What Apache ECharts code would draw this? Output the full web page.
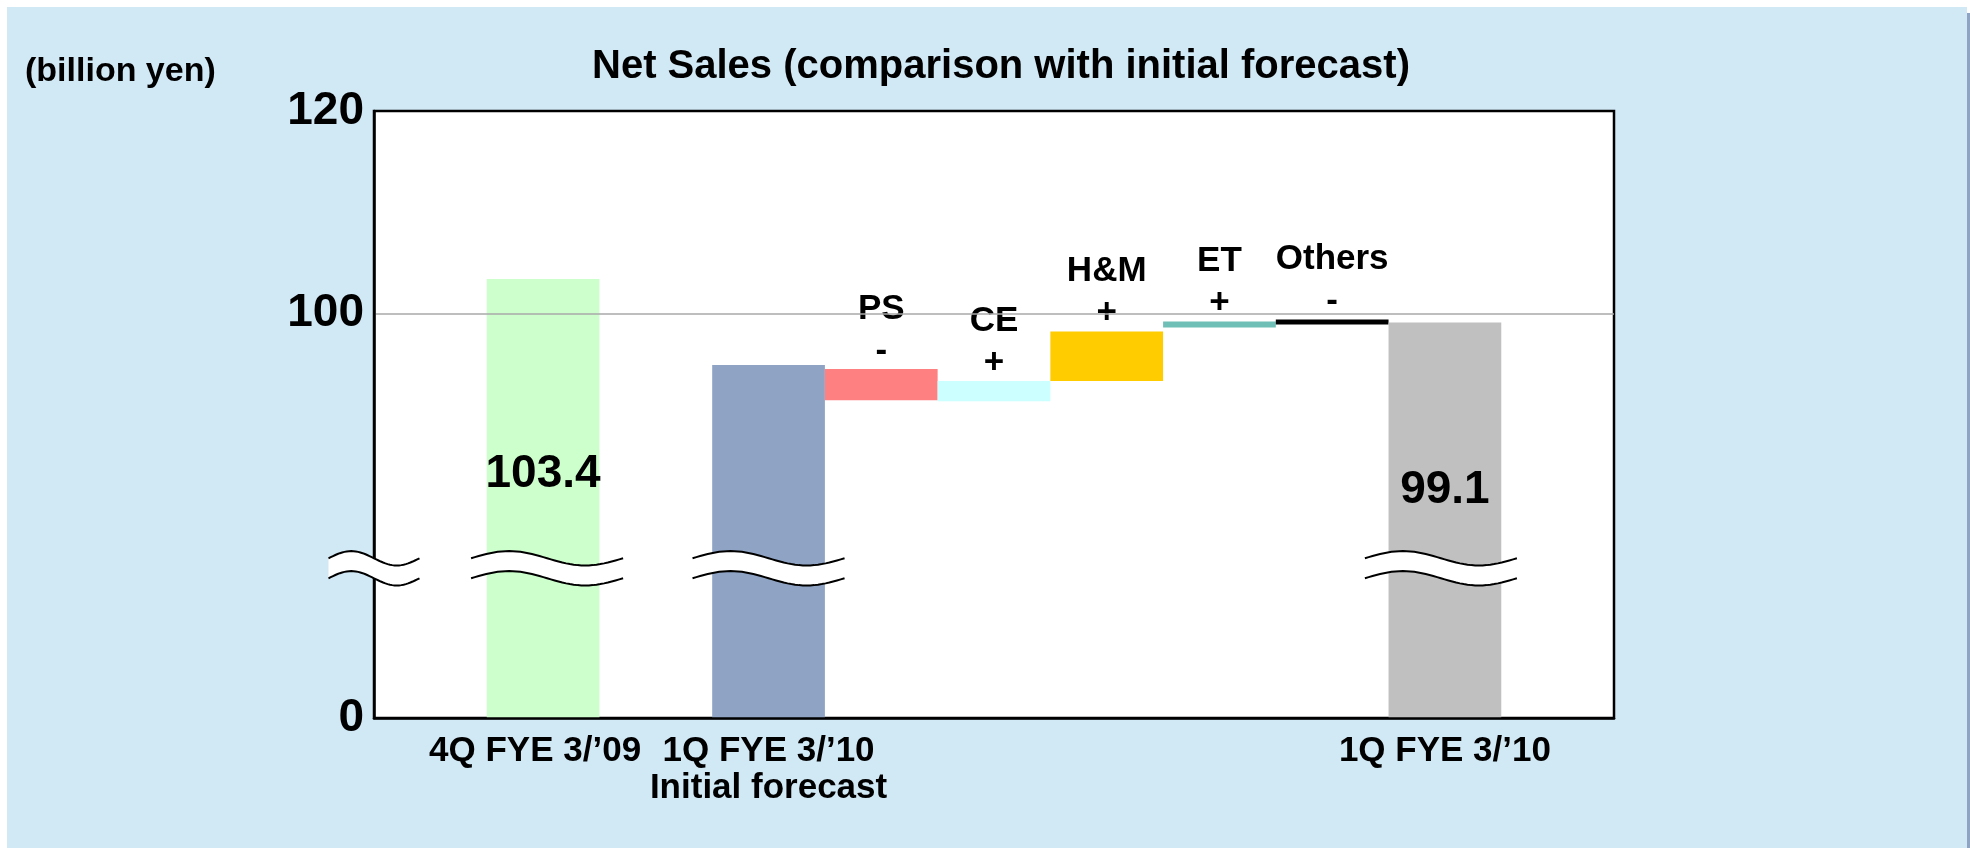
<!DOCTYPE html>
<html>
<head>
<meta charset="utf-8">
<script src="https://cdn.jsdelivr.net/npm/echarts@6/dist/echarts.min.js"></script>
<style>
  html, body { margin: 0; padding: 0; background: #fff; }
  #shadow { position: absolute; left: 13px; top: 13px; width: 1957px; height: 835px; background: #8fa3c3; }
  #panel { position: absolute; left: 7px; top: 7px; width: 1960px; height: 841px; background: #d1e8f5; }
  #chart { position: absolute; left: 0; top: 0; width: 1970px; height: 848px; }
</style>
</head>
<body>
<div id="shadow"></div>
<div id="panel"></div>
<div id="chart"></div>
<script>
// x slots (empty strings are spacer slots)
var categories = ['', '4Q FYE 3/’09', '', '1Q FYE 3/’10\nInitial forecast', 'PS', 'CE', 'H&M', 'ET', 'Others', '1Q FYE 3/’10', ''];

// full bars
var totalIndex = [1, 3, 9];
var totalValues = [103.4, 94.9, 99.1];
var totalLabels = ['103.4', '', '99.1'];

// step bars (start -> end)
var stepIndex = [4, 5, 6, 7, 8];
var stepNames = ['PS', 'CE', 'H&M', 'ET', 'Others'];
var stepSigns = ['-', '+', '+', '+', '-'];
var stepStart = [94.5, 91.3, 93.3, 98.6, 99.4];
var stepEnd = [91.4, 93.3, 98.2, 99.2, 98.9];

// y ticks: axis is broken, the bottom tick stands for 0
var yTickValues = [60, 100, 120];
var yTickLabels = ['0', '100', '120'];

var totalColors = ['#ccffcc', '#8fa4c5', '#c0c0c0'];
var stepColors = ['#ff8080', '#ccffff', '#ffcc00', '#70bfb6', '#000000'];
var totalLabelOffsets = [[0, -24], [0, 0], [0, -30]];
var FONT = '"Liberation Sans", Arial, sans-serif';

var baseData = categories.map(function () { return null; });
var barData = categories.map(function () { return null; });

totalIndex.forEach(function (idx, k) {
  baseData[idx] = 0;
  barData[idx] = {
    value: totalValues[k],
    itemStyle: { color: totalColors[k] },
    label: {
      show: totalLabels[k] !== '',
      position: 'inside',
      offset: totalLabelOffsets[k],
      formatter: totalLabels[k],
      fontSize: 46,
      fontWeight: 'bold',
      fontFamily: FONT,
      color: '#000'
    }
  };
});

stepIndex.forEach(function (idx, k) {
  var lo = Math.min(stepStart[k], stepEnd[k]);
  baseData[idx] = lo;
  barData[idx] = {
    value: Math.abs(stepEnd[k] - stepStart[k]),
    itemStyle: { color: stepColors[k] },
    label: {
      show: true,
      position: 'top',
      distance: -3,
      formatter: stepNames[k] + '\n' + stepSigns[k],
      fontSize: 35,
      lineHeight: 42,
      fontWeight: 'bold',
      fontFamily: FONT,
      color: '#000'
    }
  };
});

var xData = categories.map(function (c, i) {
  if (i === 1) return { value: c, textStyle: { padding: [0, 16, 0, 0] } };
  return c;
});

var chart = echarts.init(document.getElementById('chart'));

var option = {
  backgroundColor: 'transparent',
  animation: false,
  title: [{
    text: 'Net Sales (comparison with initial forecast)',
    left: 587,
    top: 42,
    textStyle: { fontSize: 40, fontWeight: 'bold', fontFamily: FONT, color: '#000' }
  }, {
    text: '(billion yen)',
    left: 20,
    top: 50,
    textStyle: { fontSize: 34, fontWeight: 'bold', fontFamily: FONT, color: '#000' }
  }],
  grid: {
    left: 374,
    right: 356,
    top: 111,
    bottom: 130,
    show: true,
    backgroundColor: '#fff',
    borderColor: '#000',
    borderWidth: 2.5
  },
  xAxis: {
    type: 'category',
    data: xData,
    z: 5,
    axisTick: { show: false },
    axisLine: { lineStyle: { color: '#000', width: 2.5 } },
    axisLabel: {
      interval: 0,
      margin: 15,
      fontSize: 35,
      lineHeight: 37,
      fontWeight: 'bold',
      fontFamily: FONT,
      color: '#000',
      formatter: function (v, i) { return totalIndex.indexOf(i) >= 0 ? v : ''; }
    }
  },
  yAxis: {
    type: 'value',
    min: 60,
    max: 120,
    interval: 20,
    z: 5,
    axisTick: { show: false },
    axisLine: { show: true, lineStyle: { color: '#000', width: 2.5 } },
    axisLabel: {
      margin: 10,
      fontSize: 46,
      fontWeight: 'bold',
      fontFamily: FONT,
      color: '#000',
      verticalAlign: 'middle',
      padding: [14, 0, 0, 0],
      formatter: function (v) {
        var k = yTickValues.indexOf(v);
        return k < 0 ? '' : yTickLabels[k];
      }
    },
    splitLine: {
      show: true,
      lineStyle: { color: ['rgba(0,0,0,0)', 'rgba(0,0,0,0)', '#a8a8a8', 'rgba(0,0,0,0)'], width: 1.5 }
    }
  },
  series: [{
    type: 'bar',
    stack: 'w',
    data: baseData,
    clip: true,
    barCategoryGap: '0%',
    itemStyle: { color: 'rgba(0,0,0,0)' },
    silent: true
  }, {
    type: 'bar',
    stack: 'w',
    data: barData,
    clip: true,
    barCategoryGap: '0%'
  }]
};

chart.setOption(option);

// axis break marks
var breakValue = 74.8;
function px(i) { return chart.convertToPixel({ xAxisIndex: 0 }, i); }
var band = px(1) - px(0);
var by = chart.convertToPixel({ yAxisIndex: 0 }, breakValue);
var breaks = [
  { cx: px(0) - band / 2, w: 91 },
  { cx: px(1) + 4, w: 152 },
  { cx: px(3), w: 152 },
  { cx: px(9) - 4, w: 152 }
];
var gap = 20, amp = 7.2;
var graphics = [];
breaks.forEach(function (b) {
  var top = [], bot = [];
  for (var s = 0; s <= 40; s++) {
    var t = s / 40;
    var x = b.cx - b.w / 2 + t * b.w;
    var dy = -amp * Math.sin(2 * Math.PI * t);
    top.push([x, by - gap / 2 + dy]);
    bot.push([x, by + gap / 2 + dy]);
  }
  graphics.push({
    type: 'polygon', z: 100, silent: true,
    shape: { points: top.concat(bot.slice().reverse()) },
    style: { fill: '#fff', stroke: null }
  });
  graphics.push({
    type: 'polyline', z: 101, silent: true,
    shape: { points: top, smooth: false },
    style: { stroke: '#000', lineWidth: 2, fill: null }
  });
  graphics.push({
    type: 'polyline', z: 101, silent: true,
    shape: { points: bot, smooth: false },
    style: { stroke: '#000', lineWidth: 2, fill: null }
  });
});
chart.setOption({ graphic: graphics });

window.addEventListener('resize', function () {
  chart.resize();
});
</script>
</body>
</html>
